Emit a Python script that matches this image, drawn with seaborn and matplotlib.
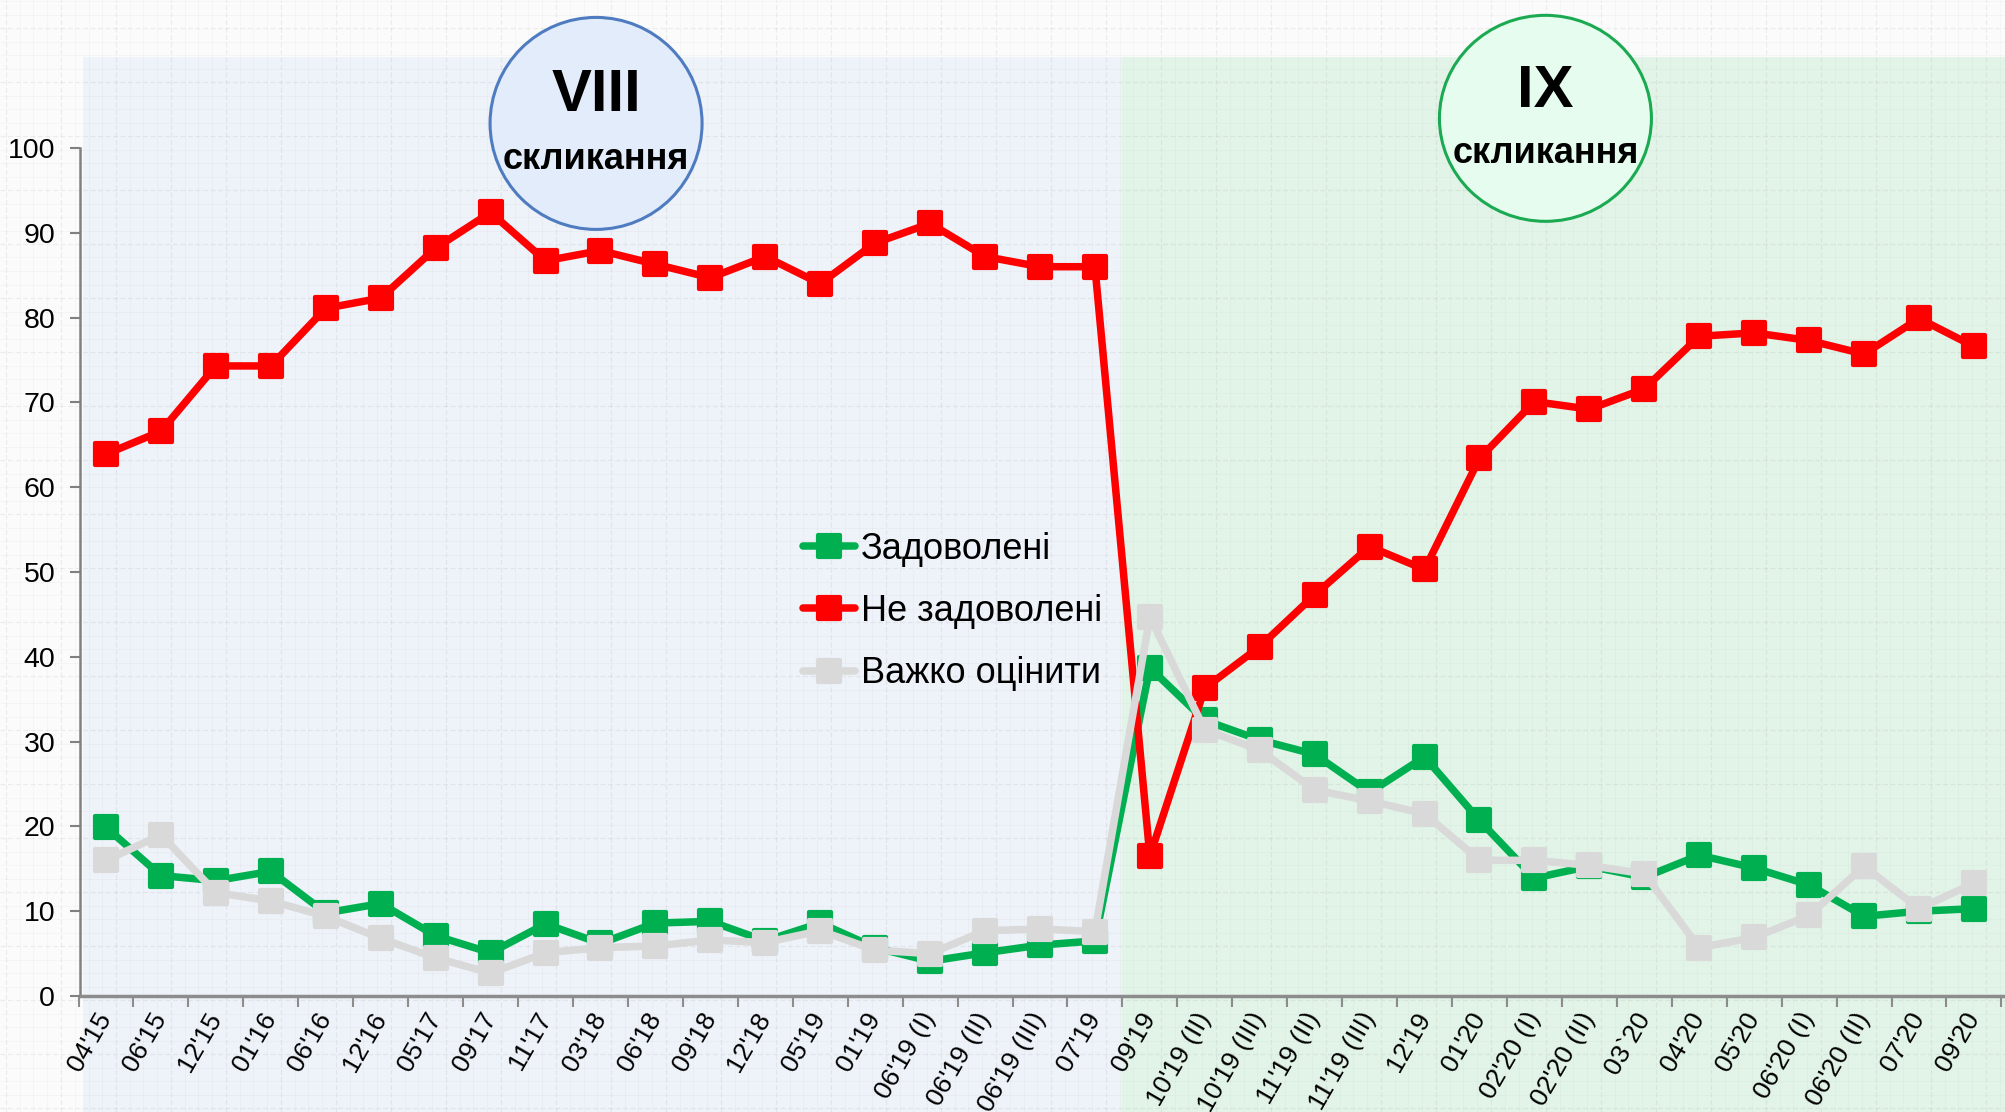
import numpy as np
import pandas as pd
import matplotlib
matplotlib.use('Agg')
import matplotlib.pyplot as plt
import seaborn as sns
from matplotlib.patches import Rectangle, Ellipse
from matplotlib.collections import LineCollection
from matplotlib.lines import Line2D
from matplotlib.markers import MarkerStyle

# survey waves
periods = ["04'15", "06'15", "12'15", "01'16", "06'16", "12'16", "05'17", "09'17",
           "11'17", "03'18", "06'18", "09'18", "12'18", "05'19", "01'19",
           "06'19 (I)", "06'19 (II)", "06'19 (III)", "07'19", "09'19",
           "10'19 (II)", "10'19 (III)", "11'19 (II)", "11'19 (III)", "12'19",
           "01'20", "02'20 (I)", "02'20 (II)", "03`20", "04'20", "05'20",
           "06'20 (I)", "06'20 (II)", "07'20", "09'20"]

satisfied = [19.9, 14.2, 13.6, 14.7, 9.8, 10.9, 7.1, 5.1, 8.5, 6.2, 8.6, 8.8, 6.5,
             8.6, 5.7, 4.1, 5.1, 6.0, 6.5, 38.7, 32.5, 30.2, 28.5, 24.0, 28.2,
             20.7, 13.9, 15.3, 14.0, 16.6, 15.1, 13.1, 9.4, 10.0, 10.3]
dissatisfied = [63.9, 66.6, 74.3, 74.3, 81.1, 82.3, 88.2, 92.4, 86.7, 87.9, 86.3,
                84.7, 87.2, 84.0, 88.8, 91.1, 87.2, 86.0, 86.0, 16.5, 36.3, 41.2,
                47.3, 53.0, 50.3, 63.4, 70.1, 69.2, 71.6, 77.8, 78.2, 77.3, 75.7,
                79.9, 76.6]
hard_to_say = [16.0, 19.0, 12.2, 11.2, 9.4, 6.8, 4.5, 2.7, 5.1, 5.7, 5.9, 6.6, 6.3,
               7.7, 5.4, 5.0, 7.7, 7.9, 7.6, 44.7, 31.4, 29.0, 24.3, 23.0, 21.5,
               16.0, 16.0, 15.4, 14.4, 5.7, 6.9, 9.5, 15.3, 10.3, 13.3]

series_names = ['Задоволені', 'Не задоволені', 'Важко оцінити']
series_colors = ['#00B050', '#FF0000', '#D9D9D9']

convocations = ['VIII', 'IX']
first_of_ix = "09'19"

sns.set_theme(style='white')
plt.rcParams['font.family'] = ['Liberation Sans', 'DejaVu Sans']
plt.rcParams['text.color'] = 'black'
plt.rcParams['xtick.color'] = 'black'
plt.rcParams['ytick.color'] = 'black'

W, H = 2006, 1112
fig = plt.figure(figsize=(W / 100, H / 100), dpi=100)
fig.patch.set_facecolor('#FBFBFB')
ax = fig.add_axes([0, 0, 1, 1])
ax.set_facecolor('none')

# pixel layout of the original chart
cat_px, x0_px = 54.94, 106
unit_px, y0_px = 8.48, 996
ax.set_xlim(-x0_px / cat_px, (W - x0_px) / cat_px)
ax.set_ylim(-(H - y0_px) / unit_px, y0_px / unit_px)
xmin, xmax = ax.get_xlim()
ymin, ymax = ax.get_ylim()

n = len(periods)
split = periods.index(first_of_ix) - 0.5
axis_x = -0.47

# period backgrounds
ax.add_patch(Rectangle((-0.42, ymin), split + 0.42, 110.7 - ymin,
                       fc='#EEF2F9', ec='none', zorder=1))
ax.add_patch(Rectangle((split, ymin), xmax - split, 110.7 - ymin,
                       fc='#E2F4E8', ec='none', zorder=1))

# faint graph-paper texture
segs_minor, segs_major = [], []
for i, xp in enumerate(np.arange(6, W, 13.75)):
    (segs_major if i % 4 == 0 else segs_minor).append([(xp / W, 0), (xp / W, 1)])
for i, yp in enumerate(np.arange(4, H, 13.5)):
    (segs_major if i % 4 == 0 else segs_minor).append([(0, yp / H), (1, yp / H)])
ax.add_collection(LineCollection(segs_minor, colors='#9A9A9A', linewidths=0.6,
                                 alpha=0.07, transform=ax.transAxes, zorder=1.5))
ax.add_collection(LineCollection(segs_major, colors='#8A8A8A', linewidths=0.9,
                                 alpha=0.13, linestyles=(0, (4, 2)),
                                 transform=ax.transAxes, zorder=1.5))

df = pd.DataFrame({
    'idx': np.tile(np.arange(n), 3),
    'value': satisfied + dissatisfied + hard_to_say,
    'series': np.repeat(series_names, n),
})

sq = MarkerStyle('s', joinstyle='round')
sns.lineplot(data=df, x='idx', y='value', hue='series', hue_order=series_names,
             palette=series_colors, marker=sq, markersize=16, markeredgewidth=3,
             linewidth=5.4, ax=ax, legend=False, zorder=5, sort=False)
for ln, c in zip(ax.get_lines(), series_colors):
    ln.set_markeredgecolor(c)
    ln.set_solid_joinstyle('round')

# axes
for s in ['top', 'right']:
    ax.spines[s].set_visible(False)
ax.spines['left'].set_position(('data', axis_x))
ax.spines['left'].set_bounds(0, 100)
ax.spines['left'].set_color('#808080')
ax.spines['left'].set_linewidth(1.8)
ax.spines['bottom'].set_position(('data', 0))
ax.spines['bottom'].set_bounds(axis_x, xmax)
ax.spines['bottom'].set_color('#8C8C8C')
ax.spines['bottom'].set_linewidth(2.5)
ax.xaxis.set_zorder(8)
ax.yaxis.set_zorder(8)

ax.set_yticks(np.arange(0, 101, 10))
ax.tick_params(axis='y', labelsize=20.5, length=7, width=1.5, color='#808080',
               direction='out', pad=11, left=True)
ax.set_xticks(np.arange(-1, n) + 0.5)
ax.set_xticklabels([])
ax.set_xticks(np.arange(n), minor=True)
ax.set_xticklabels(periods, minor=True, rotation=60, ha='right', va='center',
                   rotation_mode='anchor', fontsize=19)
ax.tick_params(axis='x', which='major', length=8, width=1.5, color='#8C8C8C',
               direction='out', bottom=True)
ax.tick_params(axis='x', which='minor', length=0, pad=13, bottom=True)
ax.set_xlabel('')
ax.set_ylabel('')

# convocation badges
badges = [
    (convocations[0], 8.92, 102.9, 212 / cat_px, 212 / unit_px, '#E3ECFA', '#4F7CC0', 106.2, 98.7),
    (convocations[1], 26.2, 103.5, 212 / cat_px, 206 / unit_px, '#E6FCEE', '#1BAA52', 106.7, 99.4),
]
for label, cx, cy, w, h, fc, ec, ty1, ty2 in badges:
    ax.add_patch(Ellipse((cx, cy), w, h, fc=fc, ec=ec, lw=2.2, zorder=6))
    ax.text(cx, ty1, label, ha='center', va='center', fontsize=43,
            fontweight='bold', zorder=7)
    ax.text(cx, ty2, 'скликання', ha='center', va='center', fontsize=26,
            fontweight='bold', zorder=7)

handles = [Line2D([], [], color=c, lw=5.4, marker=sq, markersize=16,
                  markeredgewidth=3, markeredgecolor=c) for c in series_colors]
fig.legend(handles, series_names, loc='upper left',
           bbox_to_anchor=(803 / W, 1 - 532 / H), frameon=False, fontsize=26,
           handlelength=1.45, handletextpad=0.15, labelspacing=0.75,
           borderpad=0, borderaxespad=0)

fig.savefig('out.png', dpi=100, facecolor=fig.get_facecolor())
